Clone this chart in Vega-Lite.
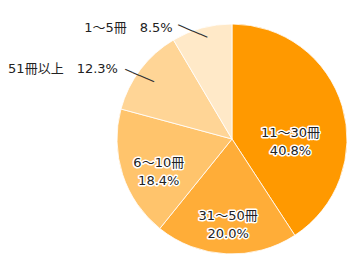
{
  "$schema": "https://vega.github.io/schema/vega-lite/v6.json",
  "width": 230,
  "height": 230,
  "autosize": "none",
  "padding": {"left": 117, "top": 24, "right": 11, "bottom": 25},
  "background": "white",
  "view": {"stroke": null},
  "config": {"text": {"font": "DejaVu Sans, Noto Sans CJK JP"}},
  "data": {
    "values": [
      {"category": "11～30冊", "pct": 40.8, "order": 1, "label": "11～30冊\n40.8%"},
      {"category": "31～50冊", "pct": 20.0, "order": 2, "label": "31～50冊\n20.0%"},
      {"category": "6～10冊", "pct": 18.4, "order": 3, "label": "6～10冊\n18.4%"},
      {"category": "51冊以上", "pct": 12.3, "order": 4, "label": "51冊以上　12.3%"},
      {"category": "1～5冊", "pct": 8.5, "order": 5, "label": "1～5冊　8.5%"}
    ]
  },
  "encoding": {
    "theta": {"field": "pct", "type": "quantitative", "stack": true},
    "order": {"field": "order", "type": "quantitative"},
    "detail": {"field": "category", "type": "nominal"}
  },
  "layer": [
    {
      "mark": {"type": "arc", "outerRadius": 115, "stroke": "#ffffff", "strokeWidth": 1, "strokeOpacity": 0.8},
      "encoding": {
        "color": {
          "field": "category",
          "type": "nominal",
          "scale": {
            "domain": ["11～30冊", "31～50冊", "6～10冊", "51冊以上", "1～5冊"],
            "range": ["#FF9900", "#FFAD38", "#FFC46C", "#FFD596", "#FFE9C8"]
          },
          "legend": null
        }
      }
    },
    {
      "mark": {"type": "text", "radius": 60, "dx": 1, "dy": 11, "fontSize": 13, "lineBreak": "\n", "lineHeight": 18, "align": "center", "baseline": "middle", "stroke": "#ffffff", "strokeWidth": 3, "strokeJoin": "round", "fill": "#ffffff"},
      "encoding": {"text": {"condition": {"test": "datum.order == 1", "field": "label"}, "value": ""}}
    },
    {
      "mark": {"type": "text", "radius": 60, "dx": 1, "dy": 11, "fontSize": 13, "lineBreak": "\n", "lineHeight": 18, "align": "center", "baseline": "middle", "fill": "#222222"},
      "encoding": {"text": {"condition": {"test": "datum.order == 1", "field": "label"}, "value": ""}}
    },
    {
      "mark": {"type": "text", "radius": 77, "fontSize": 13, "lineBreak": "\n", "lineHeight": 18, "align": "center", "baseline": "middle", "stroke": "#ffffff", "strokeWidth": 3, "strokeJoin": "round", "fill": "#ffffff"},
      "encoding": {"text": {"condition": {"test": "datum.order == 2 || datum.order == 3", "field": "label"}, "value": ""}}
    },
    {
      "mark": {"type": "text", "radius": 77, "fontSize": 13, "lineBreak": "\n", "lineHeight": 18, "align": "center", "baseline": "middle", "fill": "#222222"},
      "encoding": {"text": {"condition": {"test": "datum.order == 2 || datum.order == 3", "field": "label"}, "value": ""}}
    },
    {
      "mark": {"type": "text", "radius": 130, "dx": -10.6, "dy": 9.2, "fontSize": 13, "align": "right", "baseline": "middle", "fill": "#222222"},
      "encoding": {"text": {"condition": {"test": "datum.order == 4", "field": "label"}, "value": ""}}
    },
    {
      "mark": {"type": "text", "radius": 120, "dx": -27.6, "dy": 4.3, "fontSize": 13, "align": "right", "baseline": "middle", "fill": "#222222"},
      "encoding": {"text": {"condition": {"test": "datum.order == 5", "field": "label"}, "value": ""}}
    },
    {
      "mark": {"type": "text", "font": "DejaVu Sans Mono", "radius": 114, "angle": 23, "dx": -7.7, "dy": 6, "fontSize": 13, "align": "center", "baseline": "middle", "fill": "#333333"},
      "encoding": {"text": {"condition": {"test": "datum.order == 5", "value": "────"}, "value": ""}}
    },
    {
      "mark": {"type": "text", "font": "DejaVu Sans Mono", "radius": 114, "angle": 23, "dx": 0.7, "dy": 6.3, "fontSize": 13, "align": "center", "baseline": "middle", "fill": "#333333"},
      "encoding": {"text": {"condition": {"test": "datum.order == 4", "value": "────"}, "value": ""}}
    }
  ]
}
